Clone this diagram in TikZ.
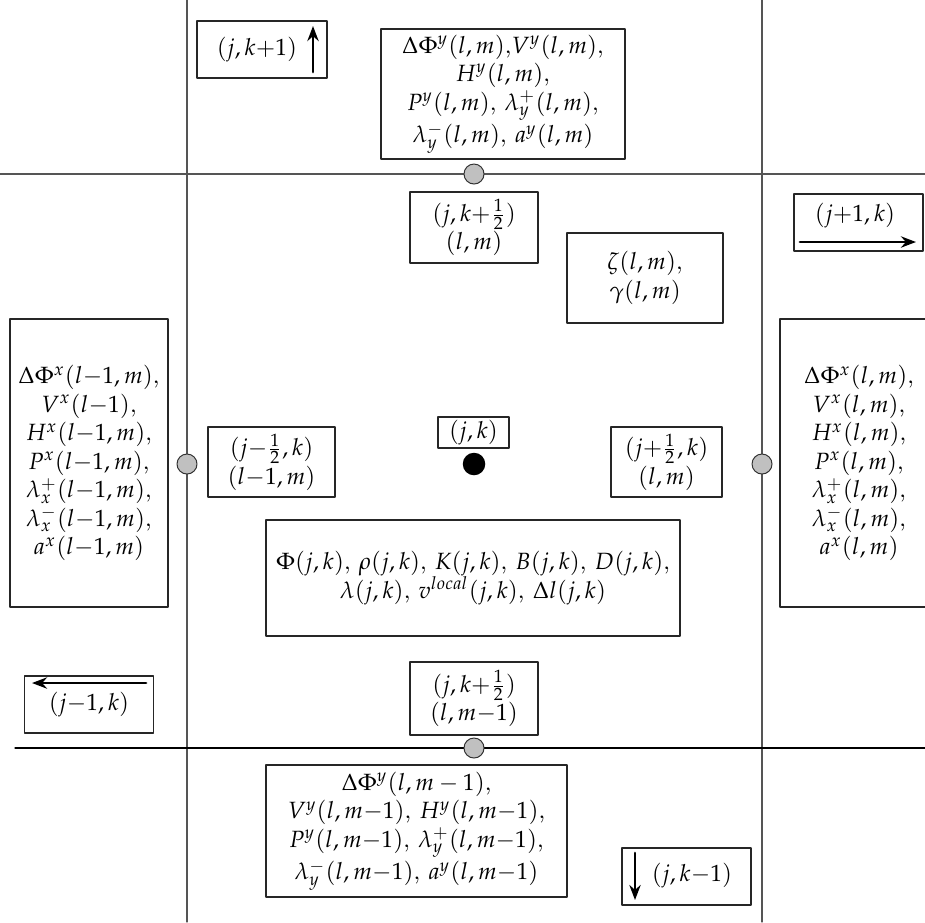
\documentclass[tikz,border=0pt]{standalone}
\usepackage{mathpazo}
\usetikzlibrary{arrows.meta, positioning}
\definecolor{gridgray}{HTML}{555555}
\definecolor{facegray}{HTML}{C0C0C0}
\tikzset{
  >={Stealth[length=6pt]},
  every picture/.style={line cap=round, line join=round},
  cell/.style={draw=black!85, line width=0.5pt, align=center, inner sep=1pt},
  % box sizes are given in pixels of the drawing grid
  sz/.style 2 args={minimum width=#1*0.4pt, minimum height=#2*0.4pt},
  gridline/.style={gridgray, line width=0.5pt},
  face/.style={circle, draw=black!80, fill=facegray, minimum size=8pt, inner sep=0pt},
  centre/.style={circle, fill=black, minimum size=9pt, inner sep=0pt},
  dir/.style={->, line width=1.1pt},
}

\begin{document}
\begin{tikzpicture}[x=0.4pt, y=-0.4pt, font=\fontsize{9.4}{11.4}\selectfont]
  \useasboundingbox (0,0) rectangle (925,922);
  \clip (0,0) rectangle (925,922);
  % cell walls
  \draw[gridline] (187,0) -- (187,922);
  \draw[gridline] (762,0) -- (762,922);
  \draw[gridline] (0,174) -- (925,174);
  \draw[gridline, black] (15,748) -- (925,748);
  % face and centre points
  \node[face] (fN) at (474,174) {};
  \node[face] (fS) at (474,748) {};
  \node[face] (fW) at (187,464) {};
  \node[face] (fE) at (762,464) {};
  \node[centre] (cc) at (474,464) {};
  \node[cell, sz={71}{31}] (jk) at (473.5,432.5) {$(j,k)$};

  % quantities on the faces
  \node[cell, sz={244}{130}] (qN) at (503,94) {$\Delta\Phi^y(l,m)$,$V^y(l,m)$,\\ $H^y(l,m)$,\\ $P^y(l,m)$, $\lambda_y^+(l,m)$,\\ $\lambda_y^-(l,m)$, $a^y(l,m)$};
  \node[cell, sz={301}{132}] (qS) at (416.5,831) {$\Delta\Phi^y(l,m-1)$,\\ $V^y(l,m{-}1)$, $H^y(l,m{-}1)$,\\ $P^y(l,m{-}1)$, $\lambda_y^+(l,m{-}1)$,\\ $\lambda_y^-(l,m{-}1)$, $a^y(l,m{-}1)$};
  \node[cell, sz={158}{288}] (qW) at (89,463) {$\Delta\Phi^x(l{-}1,m)$,\\ $V^x(l{-}1)$,\\ $H^x(l{-}1,m)$,\\ $P^x(l{-}1,m)$,\\ $\lambda_x^+(l{-}1,m)$,\\ $\lambda_x^-(l{-}1,m)$,\\ $a^x(l{-}1,m)$};
  \node[cell, sz={158}{288}] (qE) at (859,463) {$\Delta\Phi^x(l,m)$,\\ $V^x(l,m)$,\\ $H^x(l,m)$,\\ $P^x(l,m)$,\\ $\lambda_x^+(l,m)$,\\ $\lambda_x^-(l,m)$,\\ $a^x(l,m)$};
  \node[cell, sz={414}{116}] (qC) at (473,578) {$\Phi(j,k)$, $\rho(j,k)$, $K(j,k)$, $B(j,k)$, $D(j,k)$,\\ $\lambda(j,k)$, $v^{local}(j,k)$, $\Delta l(j,k)$};
  \node[cell, sz={156}{90}] (qZ) at (645,278) {$\zeta(l,m)$,\\ $\gamma(l,m)$};

  % face indices
  \node[cell, sz={128}{71}] (iN) at (474,227.5) {$(j,k{+}\frac{1}{2})$\\ $(l,m)$};
  \node[cell, sz={128}{73}] (iS) at (474,698.5) {$(j,k{+}\frac{1}{2})$\\ $(l,m{-}1)$};
  \node[cell, sz={127}{70}] (iW) at (271.5,462) {$(j{-}\frac{1}{2},k)$\\ $(l{-}1,m)$};
  \node[cell, sz={111}{70}] (iE) at (666.5,462) {$(j{+}\frac{1}{2},k)$\\ $(l,m)$};

  % neighbouring cells
  \node[cell, sz={130}{57}] (nN) at (262,49.5) {};
  \node (nNt) at (257,50) {$(j,k{+}1)$};
  \draw[dir] (313,72) -- (313,26);
  \node[cell, sz={129}{57}] (nE) at (858.5,222.5) {};
  \node (nEt) at (855,216) {$(j{+}1,k)$};
  \draw[dir] (800,242) -- (916,242);
  \node[cell, sz={129}{57}] (nW) at (89,704.5) {};
  \node (nWt) at (89,705) {$(j{-}1,k)$};
  \draw[dir] (146,683) -- (32,683);
  \node[cell, sz={129}{57}] (nS) at (686.5,876.5) {};
  \node (nSt) at (692,876) {$(j,k{-}1)$};
  \draw[dir] (635,853) -- (635,900);
\end{tikzpicture}
\end{document}
